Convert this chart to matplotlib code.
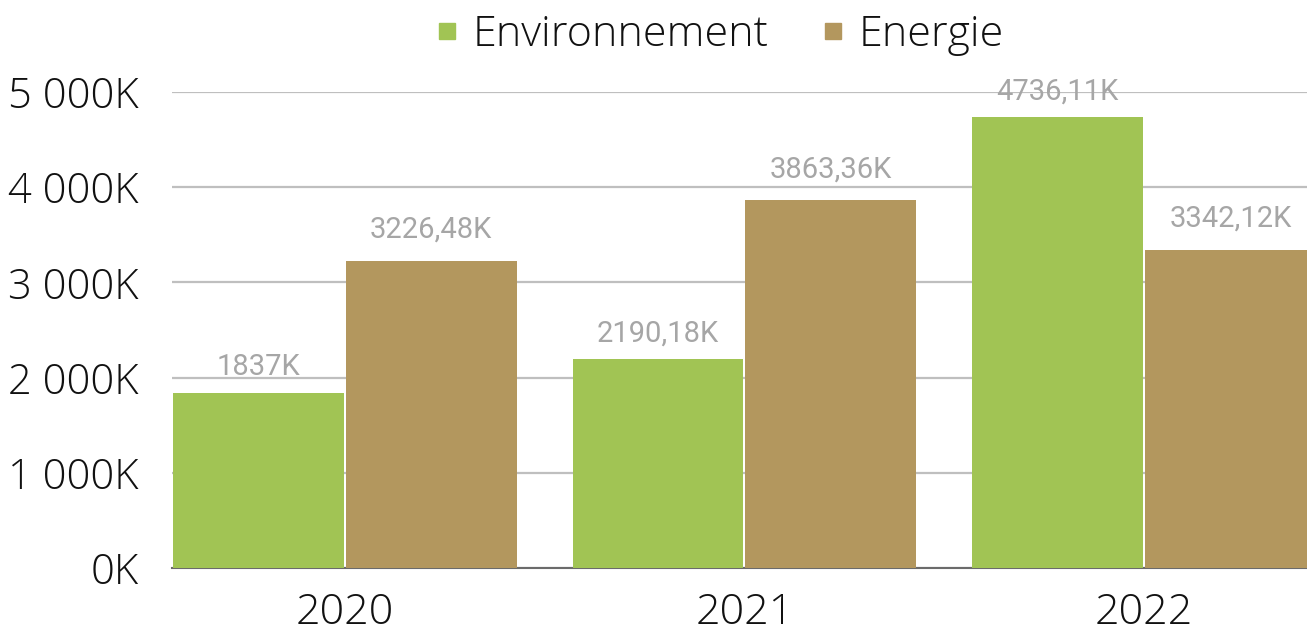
import matplotlib
matplotlib.use("Agg")
import matplotlib.pyplot as plt
import numpy as np
from matplotlib.lines import Line2D
from matplotlib import font_manager as fm

years = ["2020", "2021", "2022"]
series_names = ["Environnement", "Energie"]
environnement = [1837.0, 2190.18, 4736.11]
energie = [3226.48, 3863.36, 3342.12]
env_labels = ["1837K", "2190,18K", "4736,11K"]
ene_labels = ["3226,48K", "3863,36K", "3342,12K"]
yticks = [0, 1000, 2000, 3000, 4000, 5000]
ytick_labels = ["0K", "1 000K", "2 000K", "3 000K", "4 000K", "5 000K"]

GREEN = "#A1C454"
BROWN = "#B3975E"


def light_font(size):
    cands = [f for f in fm.fontManager.ttflist
             if f.name == "Open Sans" and f.style == "normal"
             and f.weight == 300 and f.stretch == "normal"
             and "ondensed" not in f.fname and "xpanded" not in f.fname]
    if cands:
        return fm.FontProperties(fname=cands[0].fname, size=size)
    return fm.FontProperties(family="Open Sans", weight="light", size=size)


W, H = 1307, 634
fig = plt.figure(figsize=(W / 100, H / 100), dpi=100)
ax = fig.add_axes([172 / W, (H - 568) / H, (1307 - 172) / W, (568 - 92) / H])

x = np.arange(len(years))
w = 0.4275
gap = 0.005
b1 = ax.bar(x - w / 2 - gap / 2, environnement, width=w, color=GREEN, zorder=3)
b2 = ax.bar(x + w / 2 + gap / 2, energie, width=w, color=BROWN, zorder=3)

for bars, labs, off in ((b1, env_labels, 18), (b2, ene_labels, 23)):
    for r, lab in zip(bars, labs):
        ax.annotate(lab, (r.get_x() + r.get_width() / 2, r.get_height()),
                    xytext=(0, off), textcoords="offset pixels", ha="center", va="baseline",
                    fontsize=21, color="#A6A6A6", family="Roboto", zorder=4,
                    annotation_clip=False)

ax.set_xlim(-w - gap, 2.4075)
ax.set_ylim(0, 5000)
ax.set_yticks(yticks)
ax.set_yticklabels(ytick_labels, fontproperties=light_font(30), color="#111111")
ax.set_xticks(x)
ax.set_xticklabels(years, fontproperties=light_font(31), color="#111111")
ax.tick_params(axis="y", length=0, pad=24)
ax.tick_params(axis="x", length=0, pad=17)
ax.grid(axis="y", color="#BFBFBF", linewidth=1.6, zorder=0)
for s in ["top", "right", "left"]:
    ax.spines[s].set_visible(False)
ax.spines["bottom"].set_color("#6B6B6B")
ax.spines["bottom"].set_linewidth(1.5)
ax.spines["bottom"].set_zorder(2)

handles = [Line2D([], [], marker="s", linestyle="none", markersize=11, color=GREEN),
           Line2D([], [], marker="s", linestyle="none", markersize=11, color=BROWN)]
leg = fig.legend(handles, series_names, loc="center", bbox_to_anchor=(719 / W, (H - 35) / H),
                 ncol=2, frameon=False, prop=light_font(31),
                 handletextpad=0.3, columnspacing=1.2, handlelength=0.6, borderpad=0)
for t in leg.get_texts():
    t.set_color("#111111")

fig.savefig("out.png", dpi=100)
